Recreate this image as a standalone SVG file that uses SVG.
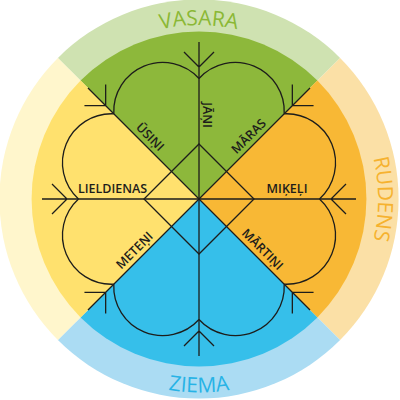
<svg xmlns="http://www.w3.org/2000/svg" xmlns:xlink="http://www.w3.org/1999/xlink" width="400" height="400" viewBox="0 0 400 400">
  <style>
    .ln { fill: none; stroke: #1d1d1b; stroke-width: 1.3; stroke-linecap: butt; stroke-linejoin: miter; }
    .lbl { font-family: "Open Sans", "Liberation Sans", sans-serif; font-weight: 600; font-size: 12.5px; fill: #1d1d1b; text-anchor: middle; }
    .season { font-family: "Open Sans", "Liberation Sans", sans-serif; font-weight: 400; font-size: 21px; text-anchor: middle; }
  </style>
  <defs>
    <g id="spoke">
      <path class="ln" d="M0,0 L0,-157 M-15,-147 L0,-132 L15,-147"/>
    </g>
    <g id="lobes">
      <path class="ln" d="M0,-120.5 A49,49 0 0 0 -85.2,-85.2 M0,-120.5 A49,49 0 0 1 85.2,-85.2"/>
    </g>
    <path id="pVasara" d="M-123,-123 A174,174 0 0 1 123,-123"/>
    <path id="pRudens" d="M126.6,-126.6 A179,179 0 0 1 126.6,126.6"/>
    <path id="pZiema" d="M-136.8,136.8 A193.5,193.5 0 0 0 136.8,136.8"/>
  </defs>

  <g id="background" transform="translate(199,199)">
    <path d="M0,0 L-141.1,-141.1 A199.5,199.5 0 0 1 141.1,-141.1 Z" fill="#cfe2b1"/>
    <path d="M0,0 L141.1,-141.1 A199.5,199.5 0 0 1 141.1,141.1 Z" fill="#fbe0a6"/>
    <path d="M0,0 L141.1,141.1 A199.5,199.5 0 0 1 -141.1,141.1 Z" fill="#abdcf3"/>
    <path d="M0,0 L-141.1,141.1 A199.5,199.5 0 0 1 -141.1,-141.1 Z" fill="#fff6cc"/>
    <path d="M0,0 L-118.4,-118.4 A167.5,167.5 0 0 1 118.4,-118.4 Z" fill="#8db83b"/>
    <path d="M0,0 L118.4,-118.4 A167.5,167.5 0 0 1 118.4,118.4 Z" fill="#f8b835"/>
    <path d="M0,0 L118.4,118.4 A167.5,167.5 0 0 1 -118.4,118.4 Z" fill="#36bfea"/>
    <path d="M0,0 L-118.4,118.4 A167.5,167.5 0 0 1 -118.4,-118.4 Z" fill="#ffe16e"/>
  </g>

  <g id="seasons" transform="translate(199,199)">
    <g id="vasara"><text class="season" fill="#8bb835"><textPath xlink:href="#pVasara" href="#pVasara" startOffset="50%">VASARA</textPath></text></g>
    <g id="rudens"><text class="season" fill="#f6b22f"><textPath xlink:href="#pRudens" href="#pRudens" startOffset="50%">RUDENS</textPath></text></g>
    <g id="ziema"><text class="season" fill="#27b3e6"><textPath xlink:href="#pZiema" href="#pZiema" startOffset="50%">ZIEMA</textPath></text></g>
  </g>

  <g id="connectors" transform="translate(199,199)">
    <use href="#spoke" xlink:href="#spoke"/>
    <use href="#spoke" xlink:href="#spoke" transform="rotate(45)"/>
    <use href="#spoke" xlink:href="#spoke" transform="rotate(90)"/>
    <use href="#spoke" xlink:href="#spoke" transform="rotate(135)"/>
    <use href="#spoke" xlink:href="#spoke" transform="rotate(180)"/>
    <use href="#spoke" xlink:href="#spoke" transform="rotate(225)"/>
    <use href="#spoke" xlink:href="#spoke" transform="rotate(270)"/>
    <use href="#spoke" xlink:href="#spoke" transform="rotate(315)"/>
    <use href="#lobes" xlink:href="#lobes"/>
    <use href="#lobes" xlink:href="#lobes" transform="rotate(90)"/>
    <use href="#lobes" xlink:href="#lobes" transform="rotate(180)"/>
    <use href="#lobes" xlink:href="#lobes" transform="rotate(270)"/>
    <path class="ln" d="M0,-55 L55,0 L0,55 L-55,0 Z"/>
  </g>

  <g id="labels" transform="translate(199,199)">
    <g id="janis" transform="rotate(90)"><text class="lbl" x="-84" y="-4">JĀŅI</text></g>
    <g id="usini" transform="rotate(45)"><text class="lbl" x="-78.5" y="-5">ŪSIŅI</text></g>
    <g id="maras" transform="rotate(-45)"><text class="lbl" x="79.5" y="-5">MĀRAS</text></g>
    <g id="mikeli"><text class="lbl" x="88" y="-6.5">MIĶEĻI</text></g>
    <g id="lieldienas"><text class="lbl" x="-86.5" y="-6.5">LIELDIENAS</text></g>
    <g id="meteni" transform="rotate(-45)"><text class="lbl" x="-82" y="-5">METEŅI</text></g>
    <g id="martini" transform="rotate(45)"><text class="lbl" x="80.6" y="-5">MĀRTIŅI</text></g>
  </g>
</svg>
